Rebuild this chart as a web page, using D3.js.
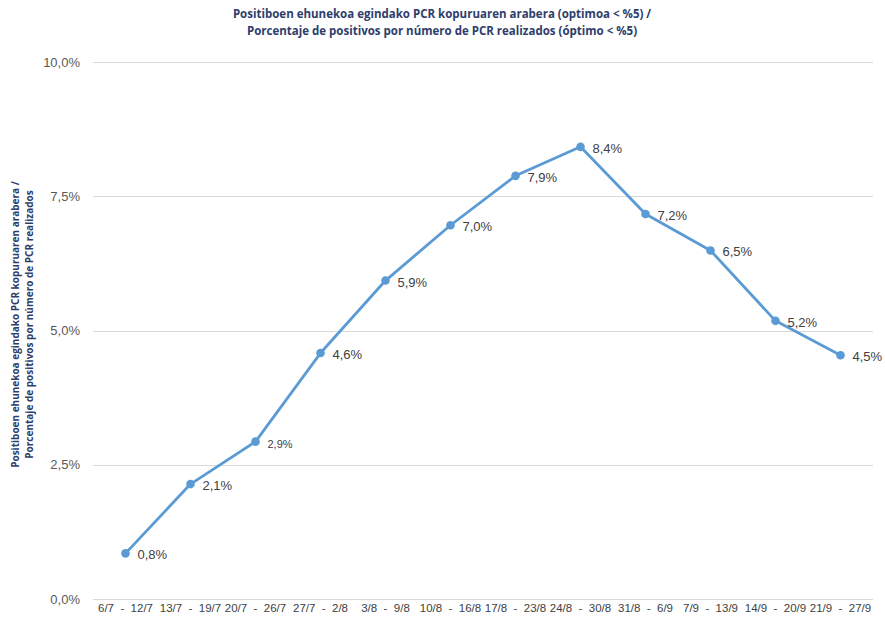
<!DOCTYPE html>
<html>
<head>
<meta charset="utf-8">
<script src="https://cdn.jsdelivr.net/npm/d3@7"></script>
<style>
  body { margin: 0; background: #fff; }
  svg { display: block; }
</style>
</head>
<body>
<div id="plot"></div>
<script>
// data
var weeks = ['6/7  -  12/7', '13/7  -  19/7', '20/7  -  26/7', '27/7  -  2/8', '3/8  -  9/8', '10/8  -  16/8',
  '17/8  -  23/8', '24/8  -  30/8', '31/8  -  6/9', '7/9  -  13/9', '14/9  -  20/9', '21/9  -  27/9'];
var positivity = [0.85, 2.14, 2.93, 4.58, 5.93, 6.96, 7.88, 8.42, 7.17, 6.49, 5.18, 4.54];
var yTicks = [0, 2.5, 5, 7.5, 10];
var titleLines = ['Positiboen ehunekoa egindako PCR kopuruaren arabera (optimoa < %5) /',
  'Porcentaje de positivos por número de PCR realizados (óptimo < %5)'];
var yTitleLines = ['Positiboen ehunekoa egindako PCR kopuruaren arabera /',
  'Porcentaje de positivos por número de PCR realizados'];

var W = 885, H = 624;
var margin = {left: 93, right: 12, top: 62, bottom: 25};

var svg = d3.select('#plot')
  .append('svg')
  .attr('width', W)
  .attr('height', H);

var x = d3.scaleBand()
  .domain(weeks)
  .range([margin.left, W - margin.right]);

var y = d3.scaleLinear()
  .domain([0, 10])
  .range([H - margin.bottom, margin.top]);

var fmt = function(v) { return d3.format('.1f')(v).replace('.', ',') + '%'; };

// gridlines + y labels
svg.append('g')
  .selectAll('line')
  .data(yTicks)
  .join('line')
  .attr('x1', margin.left)
  .attr('x2', W - margin.right)
  .attr('y1', function(d) { return Math.round(y(d)) + 0.5; })
  .attr('y2', function(d) { return Math.round(y(d)) + 0.5; })
  .style('stroke', '#d9d9d9')
  .style('stroke-width', '1px');

svg.append('g')
  .selectAll('text')
  .data(yTicks)
  .join('text')
  .attr('x', 80)
  .attr('y', function(d) { return y(d); })
  .attr('dy', '0.35em')
  .attr('text-anchor', 'end')
  .style('font-family', 'Liberation Sans, Arial, sans-serif')
  .style('font-size', '13px')
  .style('fill', '#595959')
  .text(fmt);

// x labels
svg.append('g')
  .selectAll('text')
  .data(weeks)
  .join('text')
  .attr('x', function(d) { return x(d) + x.bandwidth() / 2; })
  .attr('y', 612)
  .attr('text-anchor', 'middle')
  .style('font-family', 'Liberation Sans, Arial, sans-serif')
  .style('font-size', '11.5px')
  .style('fill', '#404040')
  .style('white-space', 'pre')
  .text(function(d) { return d; });

// line
var line = d3.line()
  .x(function(d, i) { return x(weeks[i]) + x.bandwidth() / 2; })
  .y(function(d) { return y(d); });

svg.append('path')
  .datum(positivity)
  .attr('d', line)
  .style('fill', 'none')
  .style('stroke', '#5b9bd5')
  .style('stroke-width', '2.8px')
  .style('stroke-linejoin', 'round');

svg.append('g')
  .selectAll('circle')
  .data(positivity)
  .join('circle')
  .attr('cx', function(d, i) { return x(weeks[i]) + x.bandwidth() / 2; })
  .attr('cy', function(d) { return y(d); })
  .attr('r', 4.3)
  .style('fill', '#5b9bd5');

// value labels
svg.append('g')
  .selectAll('text')
  .data(positivity)
  .join('text')
  .attr('x', function(d, i) { return x(weeks[i]) + x.bandwidth() / 2 + 12; })
  .attr('y', function(d) { return y(d) + 6; })
  .style('font-family', 'Liberation Sans, Arial, sans-serif')
  .style('font-size', function(d, i) { return i == 2 ? '11px' : '13px'; })
  .style('fill', '#404040')
  .text(fmt);

// title
svg.append('g')
  .selectAll('text')
  .data(titleLines)
  .join('text')
  .attr('x', 442)
  .attr('y', function(d, i) { return 18 + i * 17; })
  .attr('text-anchor', 'middle')
  .style('font-family', 'Open Sans, sans-serif')
  .style('font-weight', 'bold')
  .style('font-size', '11.5px')
  .style('fill', '#2e3d6b')
  .text(function(d) { return d; });

// y axis title
svg.append('g')
  .attr('transform', 'translate(0,' + (y(5) - 6) + ') rotate(-90)')
  .selectAll('text')
  .data(yTitleLines)
  .join('text')
  .attr('x', 0)
  .attr('y', function(d, i) { return 19 + i * 14; })
  .attr('text-anchor', 'middle')
  .style('font-family', 'Open Sans, sans-serif')
  .style('font-weight', 'bold')
  .style('font-size', '10px')
  .style('fill', '#2e3d6b')
  .text(function(d) { return d; });
</script>
</body>
</html>
